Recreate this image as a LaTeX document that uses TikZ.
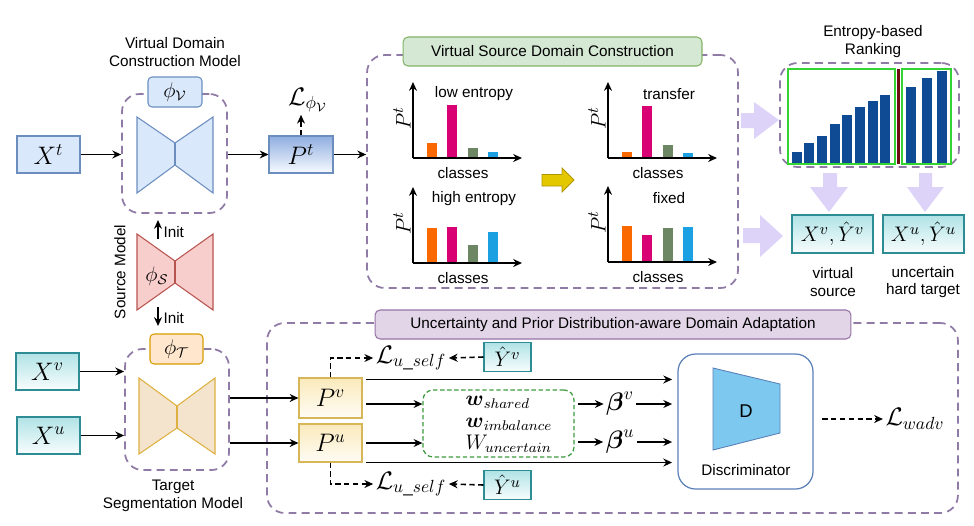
\documentclass[tikz,border=0pt]{standalone}
\usepackage{tikz}
\usepackage{amsmath}
\usepackage{amssymb}
\usepackage{xcolor}
\usepackage{fontspec}
\setmainfont{Liberation Sans}
\usetikzlibrary{arrows.meta}

\definecolor{blueFill}{HTML}{DAE8FC}
\definecolor{blueLine}{HTML}{6C8EBF}
\definecolor{blueMid}{HTML}{8FAEE0}
\definecolor{frameLine}{HTML}{8F7BA6}
\definecolor{redFill}{HTML}{F8CECC}
\definecolor{redLine}{HTML}{B85450}
\definecolor{orangeFill}{HTML}{FFE6CC}
\definecolor{orangeLine}{HTML}{D79B00}
\definecolor{beigeFill}{HTML}{F5E4CD}
\definecolor{beigeLine}{HTML}{DDB040}
\definecolor{tealTop}{HTML}{B0E3E6}
\definecolor{tealLine}{HTML}{2E8C94}
\definecolor{yellowTop}{HTML}{FAEABC}
\definecolor{yellowLine}{HTML}{D6B656}
\definecolor{greenFill}{HTML}{D5E8D4}
\definecolor{greenLine}{HTML}{82B366}
\definecolor{purpleFill}{HTML}{E1D5E7}
\definecolor{purpleLine}{HTML}{9673A6}
\definecolor{lavender}{HTML}{DDD3F8}
\definecolor{barOrange}{HTML}{FA6800}
\definecolor{barPink}{HTML}{D80073}
\definecolor{barGreen}{HTML}{6D8764}
\definecolor{barBlue}{HTML}{1BA1E2}
\definecolor{rankBlue}{HTML}{0F4A94}
\definecolor{rankGreen}{HTML}{33D433}
\definecolor{rankRed}{HTML}{6A1010}
\definecolor{arrowGold}{HTML}{E3C800}
\definecolor{arrowGoldLine}{HTML}{B09500}
\definecolor{wGreen}{HTML}{3C9A3C}
\definecolor{discBlue}{HTML}{7CC8EE}
\definecolor{discLine}{HTML}{5B80B8}

\begin{document}
\begin{tikzpicture}[x=0.02cm, y=-0.02cm, >={Stealth[length=5pt,width=4.5pt]}, line width=0.9pt,
		sans/.style={font=\fontsize{8.7}{10.2}\selectfont, align=center, inner sep=1pt},
		mth/.style={font=\fontsize{14}{16}\selectfont, inner sep=1pt},
		mbox/.style={mth, draw, line width=0.6pt, inner sep=0pt},
		smallbox/.style={draw, line width=0.6pt, rounded corners=0.08cm, inner sep=0pt, font=\fontsize{12}{14}\selectfont},
		tealbox/.style={mbox, draw=tealLine, top color=tealTop, bottom color=white!92!tealTop},
		yellowbox/.style={mbox, draw=yellowLine, top color=yellowTop, bottom color=white!85!yellowTop},
		dashframe/.style={draw=frameLine, line width=1pt, dash pattern=on 4.5pt off 3pt, rounded corners=0.35cm},
		dsh/.style={dash pattern=on 3pt off 2pt}
	]
	\useasboundingbox (0,0) rectangle (974,525);
	
	%virtual domain construction model
	\node[dashframe, minimum width=2.1cm, minimum height=2.38cm] (frameV) at (174.5,153.5) {};
	\draw[blueLine, fill=blueFill, line width=0.6pt] (137,117) -- (175,143) -- (213,117) -- (213,193) -- (175,165) -- (137,193) -- cycle;
	\draw[blueLine, line width=0.6pt] (175,143) -- (175,165);
	\node[smallbox, draw=blueLine, fill=blueFill, minimum width=1.08cm, minimum height=0.6cm] (phiV) at (175,92) {$\phi_{\mathcal{V}}$};
	\node[sans] (nameV) at (175,52) {Virtual Domain\\Construction Model};
	\node[mbox, draw=blueLine, fill=blueFill, minimum width=1.26cm, minimum height=0.74cm] (Xt) at (48.5,154.5) {$X^t$};
	\node[mbox, draw=blueLine, top color=blueMid, bottom color=white!80!blueFill, minimum width=1.28cm, minimum height=0.74cm] (Pt) at (301,154.5) {$P^t$};
	\node[mth] (Lphi) at (308,100) {$\mathcal{L}_{\phi_{\mathcal{V}}}$};
	\draw[->] (Xt.east) -- (Xt.east -| frameV.west);
	\draw[->] (frameV.east |- Pt.west) -- (Pt.west);
	\draw[->, dsh] (Pt.north) -- (Pt.north |- Lphi.south);
	
	%source model
	\draw[redLine, fill=redFill, line width=0.6pt] (137,234) -- (175,261) -- (213,234) -- (213,310) -- (175,283) -- (137,310) -- cycle;
	\draw[redLine, line width=0.6pt] (175,261) -- (175,283);
	\node[font=\fontsize{12}{14}\selectfont] (phiS) at (157,276) {$\phi_{\mathcal{S}}$};
	\node[sans, rotate=90] (nameS) at (120,272) {Source Model};
	\coordinate (upA) at (158,239);
	\coordinate (upB) at (158,220);
	\coordinate (downA) at (158,307);
	\coordinate (downB) at (158,326);
	\draw[->] (upA) -- (upB);
	\draw[->] (downA) -- (downB);
	\node[sans, anchor=west] (initUp) at (161,232) {Init};
	\node[sans, anchor=west] (initDown) at (161,318) {Init};
	
	%target segmentation model
	\node[dashframe, minimum width=2.08cm, minimum height=2.42cm] (frameT) at (177,409.5) {};
	\draw[beigeLine, fill=beigeFill, line width=0.6pt] (139,378) -- (177,406) -- (215,378) -- (215,454) -- (177,428) -- (139,454) -- cycle;
	\draw[beigeLine, line width=0.6pt] (177,406) -- (177,428);
	\node[smallbox, draw=orangeLine, fill=orangeFill, minimum width=1.06cm, minimum height=0.6cm] (phiT) at (176.5,349) {$\phi_{\mathcal{T}}$};
	\node[sans] (nameT) at (173,496) {Target\\Segmentation Model};
	\node[tealbox, minimum width=1.26cm, minimum height=0.74cm] (Xv) at (47.5,371.5) {$X^v$};
	\node[tealbox, minimum width=1.26cm, minimum height=0.74cm] (Xu) at (48.5,435.5) {$X^u$};
	\draw[->] (Xv.east) -- (Xv.east -| frameT.west);
	\draw[->] (Xu.east) -- (Xu.east -| frameT.west);
	
	%virtual source domain construction
	\node[dashframe, minimum width=7.42cm, minimum height=4.66cm] (frameS) at (552.5,171.5) {};
	\node[sans, draw=greenLine, fill=greenFill, line width=0.6pt, rounded corners=0.1cm, minimum width=5.98cm, minimum height=0.58cm] (titleS) at (552.5,51.5) {Virtual Source Domain Construction};
	\draw[->] (Pt.east) -- (Pt.east -| frameS.west);
	
	%draw the four small charts
	\foreach \ox/\oy/\ha/\hb/\hc/\hd/\ttl/\id in {413/158/15/53/10/6/low entropy/a, 413/263/35/36/18/31/high entropy/b, 608/158/6/52/13/5/transfer/c, 608/262/36/27/34/35/fixed/d}
	{
		\draw[->] (\ox,\oy) -- (\ox,\oy-76);
		\draw[->] (\ox,\oy) -- (\ox+109,\oy);
		\fill[barOrange] (\ox+14,\oy-1) rectangle (\ox+24,\oy-\ha);
		\fill[barPink] (\ox+34,\oy-1) rectangle (\ox+44,\oy-\hb);
		\fill[barGreen] (\ox+55,\oy-1) rectangle (\ox+65,\oy-\hc);
		\fill[barBlue] (\ox+75,\oy-1) rectangle (\ox+85,\oy-\hd);
		\node[sans] (ttl\id) at (\ox+61,\oy-64) {\ttl};
		\node[sans] (cls\id) at (\ox+50,\oy+15) {classes};
		\node[rotate=90, font=\fontsize{13}{15}\selectfont] (pt\id) at (\ox-11,\oy-40) {$P^t$};
	}
	\draw[arrowGoldLine, fill=arrowGold, line width=0.5pt] (542,174.5) -- (562,174.5) -- (562,168) -- (574,180) -- (562,192) -- (562,186) -- (542,186) -- cycle;
	
	%entropy-based ranking
	\node[sans] (nameR) at (873,42) {Entropy-based\\Ranking};
	\node[dashframe, minimum width=3.58cm, minimum height=2.08cm] (frameR) at (869.5,115) {};
	\foreach \bx/\bt in {792/152, 804/143, 817/136, 830/124, 842/115, 855/107, 868/101, 880/95, 906/87, 922/78, 937/71}
		\fill[rankBlue] (\bx,163) rectangle (\bx+10,\bt);
	\draw[rankGreen, line width=1pt] (788,69) rectangle (895,164);
	\draw[rankGreen, line width=1pt] (902,69) rectangle (951,164);
	\fill[rankRed] (897,69) rectangle (900,164);
	
	%block arrows
	\fill[lavender] (741,113) -- (754,113) -- (754,102) -- (779,120) -- (754,139) -- (754,128) -- (741,128) -- cycle;
	\fill[lavender] (743,228) -- (760,228) -- (760,215) -- (783,236) -- (760,257) -- (760,243) -- (743,243) -- cycle;
	\fill[lavender] (823,173) -- (837,173) -- (837,187) -- (848,187) -- (829,212) -- (810,187) -- (823,187) -- cycle;
	\fill[lavender] (919,173) -- (932,173) -- (932,187) -- (944,187) -- (925,212) -- (907,187) -- (919,187) -- cycle;
	
	%selected data
	\node[tealbox, font=\fontsize{13}{15}\selectfont, minimum width=1.62cm, minimum height=0.76cm] (XYv) at (832.5,234) {$X^v,\hat{Y}^v$};
	\node[tealbox, font=\fontsize{13}{15}\selectfont, minimum width=1.62cm, minimum height=0.76cm] (XYu) at (923.5,234) {$X^u,\hat{Y}^u$};
	\node[sans] (nameXYv) at (833,282) {virtual\\source};
	\node[sans] (nameXYu) at (923,282) {uncertain\\hard target};
	
	%uncertainty and prior distribution-aware domain adaptation
	\node[dashframe, minimum width=13.82cm, minimum height=3.8cm] (frameU) at (612.5,418) {};
	\node[sans, draw=purpleLine, fill=purpleFill, line width=0.6pt, rounded corners=0.1cm, minimum width=9.52cm, minimum height=0.58cm] (titleU) at (613,324.5) {Uncertainty and Prior Distribution-aware Domain Adaptation};
	\node[yellowbox, minimum width=1.26cm, minimum height=0.8cm] (Pv) at (330.5,398) {$P^v$};
	\node[yellowbox, minimum width=1.26cm, minimum height=0.76cm] (Pu) at (330.5,443) {$P^u$};
	\draw[->] (frameT.east |- Pv.west) -- (Pv.west);
	\draw[->] (frameT.east |- Pu.west) -- (Pu.west);
	
	%self-training losses
	\node[mth] (Luv) at (411,358) {$\mathcal{L}_{u\_self}$};
	\node[mth] (Luu) at (411,484) {$\mathcal{L}_{u\_self}$};
	\node[tealbox, font=\fontsize{12.5}{14}\selectfont, minimum width=0.94cm, minimum height=0.58cm] (Yv) at (507.5,357) {$\hat{Y}^v$};
	\node[tealbox, font=\fontsize{12.5}{14}\selectfont, minimum width=0.94cm, minimum height=0.58cm] (Yu) at (507.5,485) {$\hat{Y}^u$};
	\draw[->, dsh] (Pv.north) |- (Luv.west);
	\draw[->, dsh] (Pu.south) |- (Luu.west);
	\draw[->, dsh] (Yv.west) -- (Luv.east);
	\draw[->, dsh] (Yu.west) -- (Luu.east);
	
	%weights
	\node[draw=wGreen, line width=0.7pt, dash pattern=on 2.5pt off 1.5pt, rounded corners=0.2cm, minimum width=3.02cm, minimum height=1.34cm] (wts) at (498.5,423.5) {};
	\node[align=left, inner sep=0pt, font=\fontsize{12}{12.5}\selectfont] (wtsText) at (509,424) {$\boldsymbol{w}_{shared}$\\$\boldsymbol{w}_{imbalance}$\\$W_{uncertain}$};
	\node[mth] (bv) at (620,404) {$\boldsymbol{\beta}^v$};
	\node[mth] (bu) at (620,442) {$\boldsymbol{\beta}^u$};
	
	%discriminator
	\node[draw=discLine, line width=0.7pt, rounded corners=0.35cm, minimum width=2.7cm, minimum height=2.7cm] (disc) at (745.5,421.5) {};
	\draw[discLine, fill=discBlue, line width=0.5pt] (713,368) -- (780,384) -- (780,433) -- (713,450) -- cycle;
	\node[sans, font=\fontsize{10.5}{12}\selectfont] (Dlbl) at (746,411) {D};
	\node[sans] (discName) at (746,470) {Discriminator};
	\node[mth] (Lwadv) at (915,419) {$\mathcal{L}_{wadv}$};
	
	%connections into the discriminator
	\coordinate (pv0) at ([yshift=-0.04cm]Pv.north east);
	\coordinate (pv1) at ([yshift=-0.12cm]Pv.east);
	\draw[->, shorten <=2pt, shorten >=3pt] (pv0) -- (pv0 -| disc.west);
	\draw[->, shorten <=2pt] (pv1) -- (pv1 -| wts.west);
	\draw[->, shorten <=2pt] (Pu.east) -- (Pu.east -| wts.west);
	\draw[->, shorten <=2pt, shorten >=3pt] (Pu.south east) -- (Pu.south east -| disc.west);
	\draw[->, shorten <=2pt] (wts.east |- bv.west) -- (bv.west);
	\draw[->, shorten <=2pt] (wts.east |- bu.west) -- (bu.west);
	\draw[->, shorten >=3pt] (bv.east) -- (bv.east -| disc.west);
	\draw[->, shorten >=3pt] (bu.east) -- (bu.east -| disc.west);
	\draw[->, dsh, shorten <=5pt] (disc.east |- Lwadv.west) -- (Lwadv.west);
	
\end{tikzpicture}
\end{document}
